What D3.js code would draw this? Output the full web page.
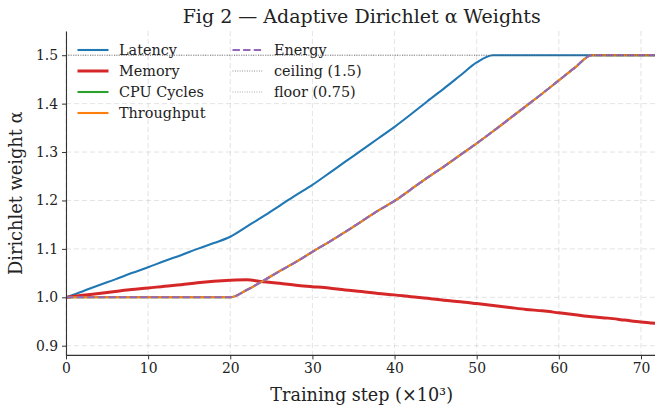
<!DOCTYPE html>
<html>
<head>
<meta charset="utf-8">
<script src="https://cdn.jsdelivr.net/npm/d3@7/dist/d3.min.js"></script>
<style>
  html, body { margin: 0; padding: 0; background: #fff; }
  svg { display: block; font-family: "DejaVu Serif", serif; }
</style>
</head>
<body>
<svg id="chart" width="655" height="412"></svg>
<script>
// Training steps (×10³)
const steps = [0, 2, 4, 6, 8, 10, 12, 14, 16, 18, 20, 22, 24, 26, 28, 30, 32, 34, 36,
  38, 40, 42, 44, 46, 48, 50, 52, 54, 56, 58, 60, 62, 64, 66, 68, 70, 72];

// Dirichlet α weight per objective
const latency = [1.000, 1.012, 1.025, 1.037, 1.050, 1.062, 1.075, 1.087, 1.100, 1.112,
  1.125, 1.146, 1.167, 1.189, 1.211, 1.232, 1.256, 1.280, 1.304, 1.328,
  1.352, 1.378, 1.405, 1.431, 1.458, 1.485, 1.500, 1.500, 1.500, 1.500,
  1.500, 1.500, 1.500, 1.500, 1.500, 1.500, 1.500];
const memory = [1.000, 1.004, 1.008, 1.012, 1.016, 1.019, 1.023, 1.026, 1.030, 1.033,
  1.035, 1.036, 1.032, 1.029, 1.025, 1.022, 1.019, 1.015, 1.012, 1.008,
  1.005, 1.001, 0.998, 0.994, 0.991, 0.987, 0.983, 0.979, 0.975, 0.972,
  0.968, 0.964, 0.960, 0.957, 0.953, 0.949, 0.946];
const cpuCycles = [1.000, 1.000, 1.000, 1.000, 1.000, 1.000, 1.000, 1.000, 1.000, 1.000,
  1.000, 1.015, 1.034, 1.054, 1.073, 1.094, 1.114, 1.135, 1.157, 1.179,
  1.199, 1.223, 1.247, 1.270, 1.294, 1.318, 1.343, 1.369, 1.395, 1.421,
  1.448, 1.475, 1.500, 1.500, 1.500, 1.500, 1.500];
const throughput = [1.000, 1.000, 1.000, 1.000, 1.000, 1.000, 1.000, 1.000, 1.000, 1.000,
  1.000, 1.015, 1.034, 1.054, 1.073, 1.094, 1.114, 1.135, 1.157, 1.179,
  1.199, 1.223, 1.247, 1.270, 1.294, 1.318, 1.343, 1.369, 1.395, 1.421,
  1.448, 1.475, 1.500, 1.500, 1.500, 1.500, 1.500];
const energy = [1.000, 1.000, 1.000, 1.000, 1.000, 1.000, 1.000, 1.000, 1.000, 1.000,
  1.000, 1.015, 1.034, 1.054, 1.073, 1.094, 1.114, 1.135, 1.157, 1.179,
  1.199, 1.223, 1.247, 1.270, 1.294, 1.318, 1.343, 1.369, 1.395, 1.421,
  1.448, 1.475, 1.500, 1.500, 1.500, 1.500, 1.500];

// Clamp bounds
const ceilingValue = 1.5;
const floorValue = 0.75;

const xTicks = [0, 10, 20, 30, 40, 50, 60, 70];
const yTicks = [0.9, 1.0, 1.1, 1.2, 1.3, 1.4, 1.5];

const seriesNames = ["Latency", "Memory", "CPU Cycles", "Throughput", "Energy"];
const seriesValues = [latency, memory, cpuCycles, throughput, energy];
const seriesColors = ["#1f77b4", "#d62728", "#2ca02c", "#ff7f0e", "#9467bd"];
const seriesWidths = [2.1, 3.0, 2.1, 2.1, 2.1];
const seriesDash = [null, null, null, null, "7.4,3.2"];

const svg = d3.select("#chart");
const plotLeft = 66, plotRight = 657.4, plotTop = 31, plotBottom = 355.4;

const x = d3.scaleLinear().domain([0, 72]).range([plotLeft, plotRight]);
const y = d3.scaleLinear().domain([0.88, 1.55]).range([plotBottom, plotTop]);

svg.append("defs").append("clipPath").attr("id", "plotClip")
  .append("rect").attr("x", plotLeft).attr("y", plotTop)
  .attr("width", plotRight - plotLeft).attr("height", plotBottom - plotTop);

// Grid
const grid = svg.append("g");
grid.selectAll("line.gx").data(xTicks).join("line")
  .attr("x1", d => x(d)).attr("x2", d => x(d))
  .attr("y1", plotTop).attr("y2", plotBottom)
  .attr("stroke", "#b0b0b0").attr("stroke-opacity", 0.45)
  .attr("stroke-width", 0.8).attr("stroke-dasharray", "5,3");
grid.selectAll("line.gy").data(yTicks).join("line")
  .attr("x1", plotLeft).attr("x2", plotRight)
  .attr("y1", d => y(d)).attr("y2", d => y(d))
  .attr("stroke", "#b0b0b0").attr("stroke-opacity", 0.45)
  .attr("stroke-width", 0.8).attr("stroke-dasharray", "5,3");

// Series lines
const line = d3.line()
  .x((d, i) => x(steps[i]))
  .y(d => y(d))
  .curve(d3.curveMonotoneX);

const plot = svg.append("g").attr("clip-path", "url(#plotClip)");
seriesValues.forEach((vals, k) => {
  plot.append("path")
    .datum(vals)
    .attr("d", line)
    .attr("fill", "none")
    .attr("stroke", seriesColors[k])
    .attr("stroke-width", seriesWidths[k])
    .attr("stroke-dasharray", seriesDash[k])
    .attr("stroke-linejoin", "round");
});

// Ceiling and floor reference lines
[ceilingValue, floorValue].forEach(v => {
  plot.append("line")
    .attr("x1", plotLeft).attr("x2", plotRight)
    .attr("y1", y(v)).attr("y2", y(v))
    .attr("stroke", "#555").attr("stroke-width", 0.9)
    .attr("stroke-dasharray", "0.9,1.5");
});

// Axes
const xAxis = d3.axisBottom(x).tickValues(xTicks).tickFormat(d3.format("d"))
  .tickSizeInner(4).tickSizeOuter(0).tickPadding(4);
const yAxis = d3.axisLeft(y).tickValues(yTicks).tickFormat(d3.format(".1f"))
  .tickSizeInner(4).tickSizeOuter(0).tickPadding(4);

const gx = svg.append("g").attr("transform", `translate(0,${plotBottom})`).call(xAxis);
const gy = svg.append("g").attr("transform", `translate(${plotLeft},0)`).call(yAxis);
[gx, gy].forEach(g => {
  g.select(".domain").attr("stroke", "#333").attr("stroke-width", 1.1);
  g.selectAll(".tick line").attr("stroke", "#333").attr("stroke-width", 1);
  g.selectAll(".tick text").attr("fill", "#222")
    .style("font-family", "DejaVu Serif").style("font-size", "13.9px");
});
gx.select(".domain").attr("d", `M${plotLeft},0H${plotRight}`);

// Titles
svg.append("text")
  .attr("x", (plotLeft + plotRight) / 2).attr("y", 23)
  .attr("text-anchor", "middle")
  .attr("fill", "#222")
  .style("font-size", "19px")
  .text("Fig 2 — Adaptive Dirichlet α Weights");

svg.append("text")
  .attr("x", (plotLeft + plotRight) / 2).attr("y", 401)
  .attr("text-anchor", "middle")
  .attr("fill", "#222")
  .style("font-size", "17.6px")
  .text("Training step (×10³)");

svg.append("text")
  .attr("transform", `translate(22,${(plotTop + plotBottom) / 2}) rotate(-90)`)
  .attr("text-anchor", "middle")
  .attr("fill", "#222")
  .style("font-size", "17.8px")
  .text("Dirichlet weight α");

// Legend
const legendItems = [
  { label: "Latency", color: seriesColors[0], w: seriesWidths[0], dash: null, col: 0, row: 0 },
  { label: "Memory", color: seriesColors[1], w: seriesWidths[1], dash: null, col: 0, row: 1 },
  { label: "CPU Cycles", color: seriesColors[2], w: seriesWidths[2], dash: null, col: 0, row: 2 },
  { label: "Throughput", color: seriesColors[3], w: seriesWidths[3], dash: null, col: 0, row: 3 },
  { label: "Energy", color: seriesColors[4], w: seriesWidths[4], dash: "7.4,3.2", col: 1, row: 0 },
  { label: "ceiling (1.5)", color: "#777", w: 0.9, dash: "0.9,1.5", col: 1, row: 1 },
  { label: "floor (0.75)", color: "#999", w: 0.9, dash: "0.9,1.5", col: 1, row: 2 }
];
const colX = [77.5, 232.5];
const legend = svg.append("g");
legendItems.forEach(it => {
  const lx = colX[it.col], ly = 50 + it.row * 21;
  legend.append("line")
    .attr("x1", lx).attr("x2", lx + 31)
    .attr("y1", ly).attr("y2", ly)
    .attr("stroke", it.color).attr("stroke-width", it.w)
    .attr("stroke-dasharray", it.dash);
  legend.append("text")
    .attr("x", lx + 41.5).attr("y", ly + 5)
    .attr("fill", "#222")
    .style("font-size", "14.4px")
    .text(it.label);
});
</script>
</body>
</html>
